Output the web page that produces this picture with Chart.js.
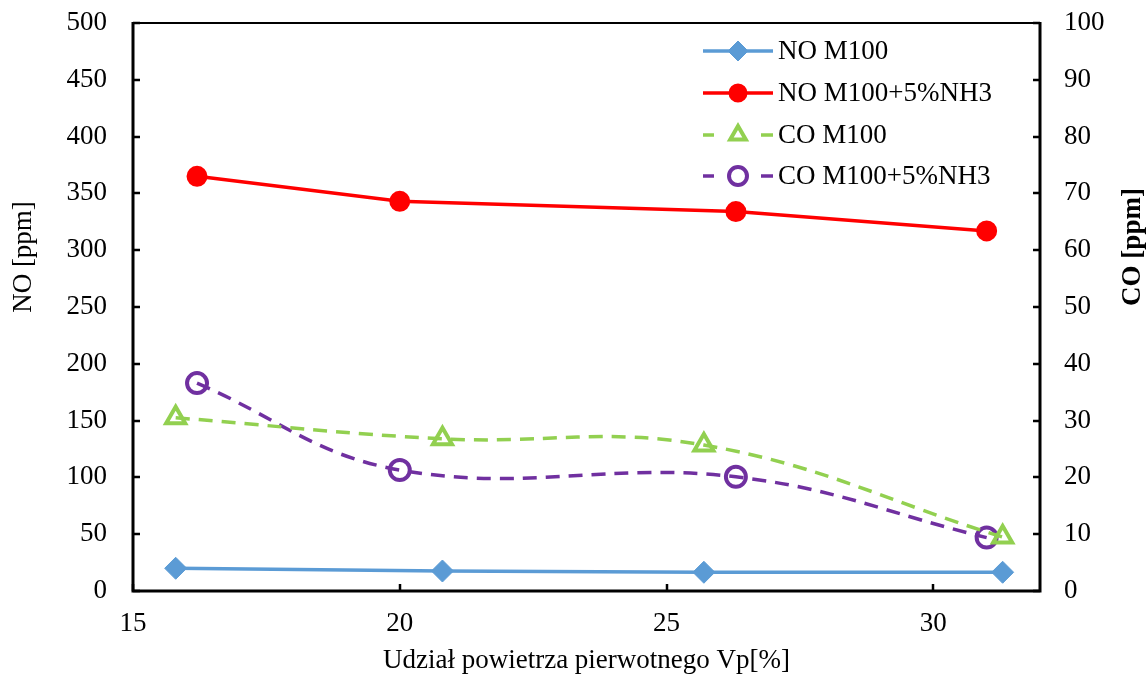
<!DOCTYPE html>
<html>
<head>
<meta charset="utf-8">
<script src="https://cdn.jsdelivr.net/npm/chart.js@4.4.0/dist/chart.umd.min.js"></script>
<style>
  html, body { margin: 0; padding: 0; background: #fff; }
  #wrap { width: 1148px; height: 677px; position: relative; }
</style>
</head>
<body>
<div id="wrap"><canvas id="emisje"></canvas></div>
<script>
// primary air share Vp [%] for both fuels
var vpM100 = [15.8, 20.8, 25.7, 31.3];
var vpNH3 = [16.2, 20.0, 26.3, 31.0];

// NO [ppm] (left axis)
var noM100 = [20, 17.6, 16.5, 16.5];
var noNH3 = [365, 343, 334, 317];

// CO [ppm] (right axis)
var coM100 = [30.5, 26.8, 25.7, 9.5];
var coNH3 = [36.6, 21.3, 20.1, 9.4];

var seriesLabels = ['NO M100', 'NO M100+5%NH3', 'CO M100', 'CO M100+5%NH3'];

var FONT = 'Liberation Serif, Times New Roman, serif';

function pts(xs, ys) {
    return xs.map(function (x, i) { return { x: x, y: ys[i] }; });
}

var alldata = [
    {
        label: seriesLabels[0],
        data: pts(vpM100, noM100),
        yAxisID: 'y',
        borderColor: '#5B9BD5',
        backgroundColor: '#5B9BD5',
        borderWidth: 3.5,
        pointStyle: 'rectRot',
        pointRadius: 11,
        pointBorderWidth: 1,
        tension: 0
    },
    {
        label: seriesLabels[1],
        data: pts(vpNH3, noNH3),
        yAxisID: 'y',
        borderColor: '#FF0000',
        backgroundColor: '#FF0000',
        borderWidth: 3.5,
        pointStyle: 'circle',
        pointRadius: 9.5,
        pointBorderWidth: 2,
        tension: 0
    },
    {
        label: seriesLabels[2],
        data: pts(vpM100, coM100),
        yAxisID: 'y1',
        borderColor: '#92D050',
        backgroundColor: 'rgba(0,0,0,0)',
        borderWidth: 3.5,
        borderDash: [14, 9],
        pointStyle: 'triangle',
        pointRadius: 11,
        pointBorderWidth: 4,
        tension: 0.4
    },
    {
        label: seriesLabels[3],
        data: pts(vpNH3, coNH3),
        yAxisID: 'y1',
        borderColor: '#7030A0',
        backgroundColor: 'rgba(0,0,0,0)',
        borderWidth: 3.5,
        borderDash: [14, 9],
        pointStyle: 'circle',
        pointRadius: 10,
        pointBorderWidth: 4,
        tension: 0.4
    }
];

// frame, inward tick marks, rotated axis titles and the line+marker legend
var decorPlugin = {
    id: 'decor',
    afterDraw: function (chart) {
        var ctx = chart.ctx;
        var a = chart.chartArea;
        var sx = chart.scales.x, sy = chart.scales.y, sy1 = chart.scales.y1;
        ctx.save();
        ctx.strokeStyle = '#000';
        ctx.lineCap = 'butt';

        ctx.lineWidth = 2;
        ctx.beginPath();
        ctx.moveTo(a.left, a.top);
        ctx.lineTo(a.right, a.top);
        ctx.stroke();

        ctx.lineWidth = 3;
        ctx.beginPath();
        ctx.moveTo(a.left, a.top - 1);
        ctx.lineTo(a.left, a.bottom);
        ctx.lineTo(a.right, a.bottom);
        ctx.moveTo(a.right, a.top - 1);
        ctx.lineTo(a.right, a.bottom + 1.5);
        ctx.stroke();

        ctx.lineWidth = 2.5;
        ctx.beginPath();
        sy.ticks.forEach(function (t) {
            var p = Math.round(sy.getPixelForValue(t.value));
            ctx.moveTo(a.left, p); ctx.lineTo(a.left + 7, p);
        });
        sy1.ticks.forEach(function (t) {
            var p = Math.round(sy1.getPixelForValue(t.value));
            ctx.moveTo(a.right, p); ctx.lineTo(a.right - 7, p);
        });
        sx.ticks.forEach(function (t) {
            var p = Math.round(sx.getPixelForValue(t.value));
            ctx.moveTo(p, a.bottom); ctx.lineTo(p, a.bottom - 7);
        });
        ctx.stroke();

        // axis titles
        ctx.fillStyle = '#000';
        ctx.textAlign = 'center';
        ctx.textBaseline = 'middle';
        ctx.save();
        ctx.translate(24, 257);
        ctx.rotate(-Math.PI / 2);
        ctx.font = '27px ' + FONT;
        ctx.fillText('NO [ppm]', 0, 0);
        ctx.restore();
        ctx.save();
        ctx.translate(1133, 247);
        ctx.rotate(-Math.PI / 2);
        ctx.font = 'bold 27px ' + FONT;
        ctx.fillText('CO [ppm]', 0, 0);
        ctx.restore();

        // legend
        var rows = [51, 93, 135, 176];
        var x0 = 703, x1 = 773, xm = 738;
        chart.data.datasets.forEach(function (ds, i) {
            var y = rows[i];
            ctx.strokeStyle = ds.borderColor;
            ctx.lineWidth = ds.borderWidth;
            ctx.beginPath();
            if (ds.borderDash) {
                ctx.moveTo(x0, y); ctx.lineTo(x0 + 11, y);
                ctx.moveTo(x1 - 12, y); ctx.lineTo(x1, y);
            } else {
                ctx.moveTo(x0, y); ctx.lineTo(x1, y);
            }
            ctx.stroke();
            ctx.fillStyle = ds.backgroundColor;
            ctx.lineWidth = ds.pointBorderWidth;
            Chart.helpers.drawPoint(ctx, {
                pointStyle: ds.pointStyle,
                radius: ds.pointStyle === 'triangle' ? 9 : ds.pointRadius - 1,
                rotation: 0,
                borderWidth: ds.pointBorderWidth
            }, xm, y);
            ctx.fillStyle = '#000';
            ctx.font = '27px ' + FONT;
            ctx.textAlign = 'left';
            ctx.textBaseline = 'middle';
            ctx.fillText(ds.label, 778, y + 1);
        });
        ctx.restore();
    }
};

var tickFont = { family: FONT, size: 27 };

// keep the plot box fixed: no extra room for half-height edge labels
function fixY(width) {
    return function (s) {
        s.width = width;
        s.paddingTop = 0;
        s.paddingBottom = 0;
    };
}

var canvas = document.getElementById('emisje').getContext('2d');
var myChart = new Chart(canvas, {
    type: 'line',
    data: { datasets: alldata },
    options: {
        responsive: true,
        maintainAspectRatio: false,
        animation: false,
        events: [],
        layout: { padding: { top: 23, left: 0, right: 0, bottom: 0 } },
        plugins: {
            legend: { display: false },
            tooltip: { enabled: false }
        },
        scales: {
            x: {
                type: 'linear',
                min: 15,
                max: 32,
                grid: { display: false },
                border: { display: false },
                ticks: {
                    stepSize: 5,
                    includeBounds: false,
                    padding: 9,
                    color: '#000',
                    font: tickFont,
                    maxRotation: 0
                },
                title: {
                    display: true,
                    text: 'Udział powietrza pierwotnego Vp[%]',
                    color: '#000',
                    font: { family: FONT, size: 27 },
                    padding: { top: 0, bottom: 0 }
                },
                afterFit: function (s) { s.height = 86; }
            },
            y: {
                position: 'left',
                min: 0,
                max: 500,
                grid: { display: false },
                border: { display: false },
                ticks: { stepSize: 50, padding: 18, color: '#000', font: tickFont },
                afterFit: fixY(133)
            },
            y1: {
                position: 'right',
                min: 0,
                max: 100,
                grid: { display: false },
                border: { display: false },
                ticks: { stepSize: 10, padding: 16, color: '#000', font: tickFont },
                afterFit: fixY(108)
            }
        }
    },
    plugins: [decorPlugin]
});
</script>
</body>
</html>
